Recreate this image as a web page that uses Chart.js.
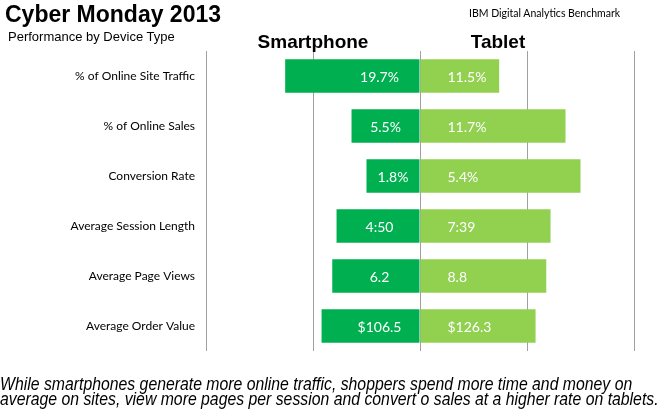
<!DOCTYPE html>
<html>
<head>
<meta charset="utf-8">
<script src="https://cdn.jsdelivr.net/npm/chart.js@4.4.1/dist/chart.umd.min.js"></script>
<style>
  html, body { margin: 0; padding: 0; background: #fff; }
  #wrap { position: relative; width: 664px; height: 409px; overflow: hidden; }
  .txt { position: absolute; white-space: nowrap; color: #000; line-height: 1; }
  #title { left: 5px; top: 1px; font: bold 23px "Liberation Sans", Arial, sans-serif; }
  #subtitle { left: 8px; top: 29px; font: 13px "Liberation Sans", Arial, sans-serif; }
  #source { left: 469px; top: 7px; font: 10.5px Lato, sans-serif; }
  .head { top: 31px; font: bold 19px "Liberation Sans", Arial, sans-serif; transform: translateX(-50%); }
  #footer { left: 0px; top: 377px; font: italic 15.8px "Liberation Sans", Arial, sans-serif; line-height: 12.6px;
            transform: scaleY(1.17); transform-origin: 0 0; }
</style>
</head>
<body>
<div id="wrap">
  <canvas id="chart" width="664" height="409"></canvas>
  <div class="txt" id="title">Cyber Monday 2013</div>
  <div class="txt" id="subtitle">Performance by Device Type</div>
  <div class="txt" id="source">IBM Digital Analytics Benchmark</div>
  <div class="txt head" style="left:313px">Smartphone</div>
  <div class="txt head" style="left:498px">Tablet</div>
  <div class="txt" id="footer">While smartphones generate more online traffic, shoppers spend more time and money on<br>average on sites, view more pages per session and convert o sales at a higher rate on tablets.</div>
</div>
<script>
// Metrics shown down the left side
const metrics = [
    '% of Online Site Traffic',
    '% of Online Sales',
    'Conversion Rate',
    'Average Session Length',
    'Average Page Views',
    'Average Order Value'
];

// Values printed on the bars
const smartphoneText = ['19.7%', '5.5%', '1.8%', '4:50', '6.2', '$106.5'];
const tabletText = ['11.5%', '11.7%', '5.4%', '7:39', '8.8', '$126.3'];

// Bar lengths: each device's share of the row (%)
const smartphoneShare = [63, 32, 25, 39, 41, 46];
const tabletShare = [37, 68, 75, 61, 59, 54];

const darkGreen = '#00B050';
const lightGreen = '#92D050';

// Writes the value text on top of each bar
const barText = {
    id: 'barText',
    afterDatasetsDraw(chart) {
        const ctx = chart.ctx;
        ctx.save();
        ctx.fillStyle = '#fff';
        ctx.font = '14px Lato, sans-serif';
        ctx.textBaseline = 'middle';
        chart.getDatasetMeta(0).data.forEach((bar, i) => {
            // centred in the bar, but never further left than base - 40
            const mid = (bar.x + bar.base) / 2;
            ctx.textAlign = 'center';
            ctx.fillText(smartphoneText[i], Math.max(mid, bar.base - 40), bar.y + 1);
        });
        chart.getDatasetMeta(1).data.forEach((bar, i) => {
            ctx.textAlign = 'left';
            ctx.fillText(tabletText[i], bar.base + 27, bar.y + 1);
        });
        ctx.restore();
    }
};

const ctx = document.getElementById('chart').getContext('2d');
new Chart(ctx, {
    type: 'bar',
    data: {
        labels: metrics,
        datasets: [{
            label: 'Smartphone',
            data: smartphoneShare.map(v => -v), // smartphone grows to the left
            backgroundColor: darkGreen,
            barPercentage: 0.67,
            categoryPercentage: 1
        }, {
            label: 'Tablet',
            data: tabletShare,
            backgroundColor: lightGreen,
            barPercentage: 0.67,
            categoryPercentage: 1
        }]
    },
    options: {
        indexAxis: 'y',
        responsive: false,
        animation: false,
        layout: { padding: { top: 51, bottom: 58, left: 0, right: 30 } },
        plugins: {
            legend: { display: false },
            tooltip: { enabled: false }
        },
        scales: {
            x: {
                stacked: true,
                min: -100,
                max: 100,
                ticks: { display: false, stepSize: 50 },
                grid: { color: '#a0a0a0', lineWidth: 1, drawTicks: false },
                border: { display: false },
                afterFit(scale) { scale.height = 0; }
            },
            y: {
                stacked: true,
                grid: { display: false, drawTicks: false },
                border: { display: false },
                ticks: {
                    color: '#000',
                    padding: 11,
                    font: { family: 'Lato, sans-serif', size: 12 }
                },
                afterFit(scale) { scale.width = 206; }
            }
        }
    },
    plugins: [barText]
});
</script>
</body>
</html>
